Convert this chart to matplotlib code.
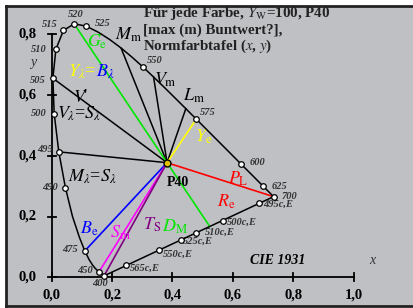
import numpy as np
import matplotlib
matplotlib.use("Agg")
import matplotlib.pyplot as plt
from matplotlib.patches import Rectangle
from matplotlib.lines import Line2D

plt.rcParams["font.family"] = ["Liberation Serif", "DejaVu Serif"]
plt.rcParams["mathtext.fontset"] = "stix"

# CIE 1931 spectral locus, 400..700 nm in 5 nm steps
wl = list(range(400, 705, 5))
loc_x = [0.1733, 0.1730, 0.1726, 0.1721, 0.1714, 0.1703, 0.1689, 0.1669, 0.1644, 0.1611,
         0.1566, 0.1510, 0.1440, 0.1355, 0.1241, 0.1096, 0.0913, 0.0687, 0.0454, 0.0235,
         0.0082, 0.0039, 0.0139, 0.0389, 0.0743, 0.1142, 0.1547, 0.1929, 0.2296, 0.2658,
         0.3016, 0.3373, 0.3731, 0.4087, 0.4441, 0.4788, 0.5125, 0.5448, 0.5752, 0.6029,
         0.6270, 0.6482, 0.6658, 0.6801, 0.6915, 0.7006, 0.7079, 0.7140, 0.7190, 0.7230,
         0.7260, 0.7283, 0.7300, 0.7311, 0.7320, 0.7327, 0.7334, 0.7340, 0.7344, 0.7346,
         0.7347]
loc_y = [0.0048, 0.0048, 0.0048, 0.0048, 0.0051, 0.0058, 0.0069, 0.0086, 0.0109, 0.0138,
         0.0177, 0.0227, 0.0297, 0.0399, 0.0578, 0.0868, 0.1327, 0.2007, 0.2950, 0.4127,
         0.5384, 0.6548, 0.7502, 0.8120, 0.8338, 0.8262, 0.8059, 0.7816, 0.7543, 0.7243,
         0.6923, 0.6589, 0.6245, 0.5896, 0.5547, 0.5202, 0.4866, 0.4544, 0.4242, 0.3965,
         0.3725, 0.3514, 0.3340, 0.3197, 0.3083, 0.2993, 0.2920, 0.2859, 0.2809, 0.2770,
         0.2740, 0.2717, 0.2700, 0.2689, 0.2680, 0.2673, 0.2666, 0.2660, 0.2656, 0.2654,
         0.2653]

marked_wl = [400, 450, 475, 490, 495, 500, 505, 510, 515, 520, 525, 550, 575, 600, 625, 700]
compl_wl = [495, 500, 510, 525, 550, 565]

p40 = (0.382, 0.377)
white_e = (1 / 3, 1 / 3)

# coloured lines from P40: (wavelength, colour, extend to purple line?)
color_lines = [
    (520, "#00e600", True),
    (575, "#ffff00", False),
    (475, "#0000ff", False),
    (700, "#ff0000", False),
    (450, "#ff00ff", False),
    (400, "#800080", False),
]
black_lines = [505, 495, 540, 555, 570]


def xy(w):
    i = wl.index(w)
    return loc_x[i], loc_y[i]


def on_purple(p, q):
    # intersection of line p->q (extended) with the purple line 400-700
    a = np.array(xy(400))
    b = np.array(xy(700))
    p = np.array(p)
    d = np.array(q) - p
    m = np.array([d, a - b]).T
    t, s = np.linalg.solve(m, a - p)
    return p + t * d


fig = plt.figure(figsize=(4.13, 3.08), dpi=100)
# grey panel with a frame on left, top and bottom (open to the right edge)
fl, fb, ft = 6 / 413, 2.5 / 308, 1 - 5.5 / 308
fig.patches.append(Rectangle((fl, fb), 1.0, ft - fb, transform=fig.transFigure,
                             facecolor="#bfc0c4", edgecolor="none", zorder=-1))
for xs, ys in [([fl, fl], [fb, ft]), ([fl, 1.0], [ft, ft]), ([fl, 1.0], [fb, fb])]:
    fig.add_artist(Line2D(xs, ys, transform=fig.transFigure, color="#222222", lw=2.0,
                          zorder=-0.5))
ax = fig.add_axes([0, 0, 1, 1])
ax.set_xlim(-51.7 / 302, (413 - 51.7) / 302)
ax.set_ylim((277.3 - 308) / 304, 277.3 / 304)
ax.axis("off")

# axes
ax.plot([0, 1.0], [0, 0], color="black", lw=1.3)
ax.plot([0, 0], [0, 0.8], color="black", lw=1.3)
for t in [0, 0.2, 0.4, 0.6, 0.8, 1.0]:
    ax.plot([t, t], [-0.013, 0.013], color="black", lw=1.3)
    ax.text(t, -0.059, f"{t:.1f}".replace(".", ","), ha="center", va="center",
            fontsize=10.5, fontweight="bold")
for t in [0, 0.2, 0.4, 0.6, 0.8]:
    ax.plot([-0.013, 0.013], [t, t], color="black", lw=1.3)
    ax.text(-0.05, t, f"{t:.1f}".replace(".", ","), ha="right", va="center",
            fontsize=10.5, fontweight="bold")

# lines from P40
for w in black_lines:
    ax.plot([p40[0], xy(w)[0]], [p40[1], xy(w)[1]], color="black", lw=1.1, zorder=2)
for w, c, ext in color_lines:
    end = on_purple(xy(w), p40) if ext else p40
    ax.plot([xy(w)[0], end[0]], [xy(w)[1], end[1]], color=c, lw=1.2, zorder=3)

# locus and purple line
ax.plot(loc_x, loc_y, color="black", lw=1.1, zorder=4)
ax.plot([loc_x[0], loc_x[-1]], [loc_y[0], loc_y[-1]], color="black", lw=1.1, zorder=4)
mx = [xy(w)[0] for w in marked_wl]
my = [xy(w)[1] for w in marked_wl]
ax.plot(mx, my, "o", ms=4, mfc="white", mec="black", mew=0.9, zorder=5)
cpts = [on_purple(xy(w), white_e) for w in compl_wl]
ax.plot([p[0] for p in cpts], [p[1] for p in cpts], "o", ms=4, mfc="white",
        mec="black", mew=0.9, zorder=5)
ax.plot(*p40, "o", ms=5, mfc="#e0c000", mec="black", mew=1.0, zorder=6)

# wavelength labels
lab = dict(fontsize=7.5, style="italic", fontweight="bold", color="#333333",
           va="center")
wl_text = [
    (400, 0.160, -0.019), (450, 0.110, 0.021), (475, 0.061, 0.093), (490, -0.006, 0.297),
    (495, -0.022, 0.419), (500, -0.042, 0.540), (505, -0.045, 0.649), (510, -0.042, 0.748),
    (515, -0.006, 0.833), (520, 0.080, 0.863), (525, 0.170, 0.836), (550, 0.342, 0.712),
    (575, 0.518, 0.543), (600, 0.683, 0.376), (625, 0.756, 0.300), (700, 0.786, 0.267),
]
for w, tx, ty in wl_text:
    ax.text(tx, ty, str(w), ha="center", **lab)
c_text = [(0.700, 0.241), (0.581, 0.182), (0.508, 0.149), (0.436, 0.120),
          (0.369, 0.077), (0.259, 0.031)]
for w, (tx, ty) in zip(compl_wl, c_text):
    ax.text(tx, ty, f"{w}c,E", ha="left", **lab)

# line labels
big = dict(fontsize=13, ha="left", va="center")
ax.text(0.117, 0.774, r"$G_{\rm e}$", color="#00e600", **big)
ax.text(0.210, 0.797, r"$M_{\rm m}$", color="black", **big)
ax.text(0.339, 0.650, r"$V_{\rm m}$", color="black", **big)
ax.text(0.435, 0.596, r"$L_{\rm m}$", color="black", **big)
t1 = ax.text(0.054, 0.675, r"$Y_\lambda$=", color="#ffff00", **big)
ax.annotate(r"$B_\lambda$", xy=(1, 0), xycoords=t1, va="bottom", ha="left",
            color="#0000ff", fontsize=13)
ax.text(0.071, 0.590, r"$V$'", color="black", **big)
ax.text(0.018, 0.537, r"$V_\lambda$=$S_\lambda$", color="black", **big)
ax.text(0.054, 0.330, r"$M_\lambda$=$S_\lambda$", color="black", **big)
ax.text(0.475, 0.461, r"$Y_{\rm e}$", color="#ffff00", **big)
ax.text(0.584, 0.323, r"$P_{\rm L}$", color="#ff0000", **big)
ax.text(0.547, 0.248, r"$R_{\rm e}$", color="#ff0000", **big)
ax.text(0.094, 0.158, r"$B_{\rm e}$", color="#0000ff", **big)
ax.text(0.193, 0.145, r"$S_{\rm m}$", color="#ff00ff", **big)
ax.text(0.303, 0.172, r"$T_{\rm S}$", color="#800080", **big)
ax.text(0.365, 0.165, r"$D_{\rm M}$", color="#00e600", **big)
ax.text(0.382, 0.313, "P40", fontsize=10, fontweight="bold", ha="left", va="center")

# title and axis names
title = dict(fontsize=10.8, fontweight="bold", color="#222222", ha="left", va="center")
ax.text(0.302, 0.868, r"Für jede Farbe, $Y_{\rm W}$=100, P40", **title)
ax.text(0.302, 0.813, "[max (m) Buntwert?],", **title)
ax.text(0.302, 0.759, r"Normfarbtafel ($x$, $y$)", **title)
ax.text(0.748, 0.054, "CIE 1931", fontsize=10, fontweight="bold", style="italic",
        ha="center", va="center")
ax.text(1.06, 0.054, "x", fontsize=10, style="italic", color="#333333",
        ha="center", va="center")
ax.text(-0.062, 0.705, "y", fontsize=10, style="italic", color="#333333",
        ha="center", va="center")

fig.savefig("out.png", dpi=100)
